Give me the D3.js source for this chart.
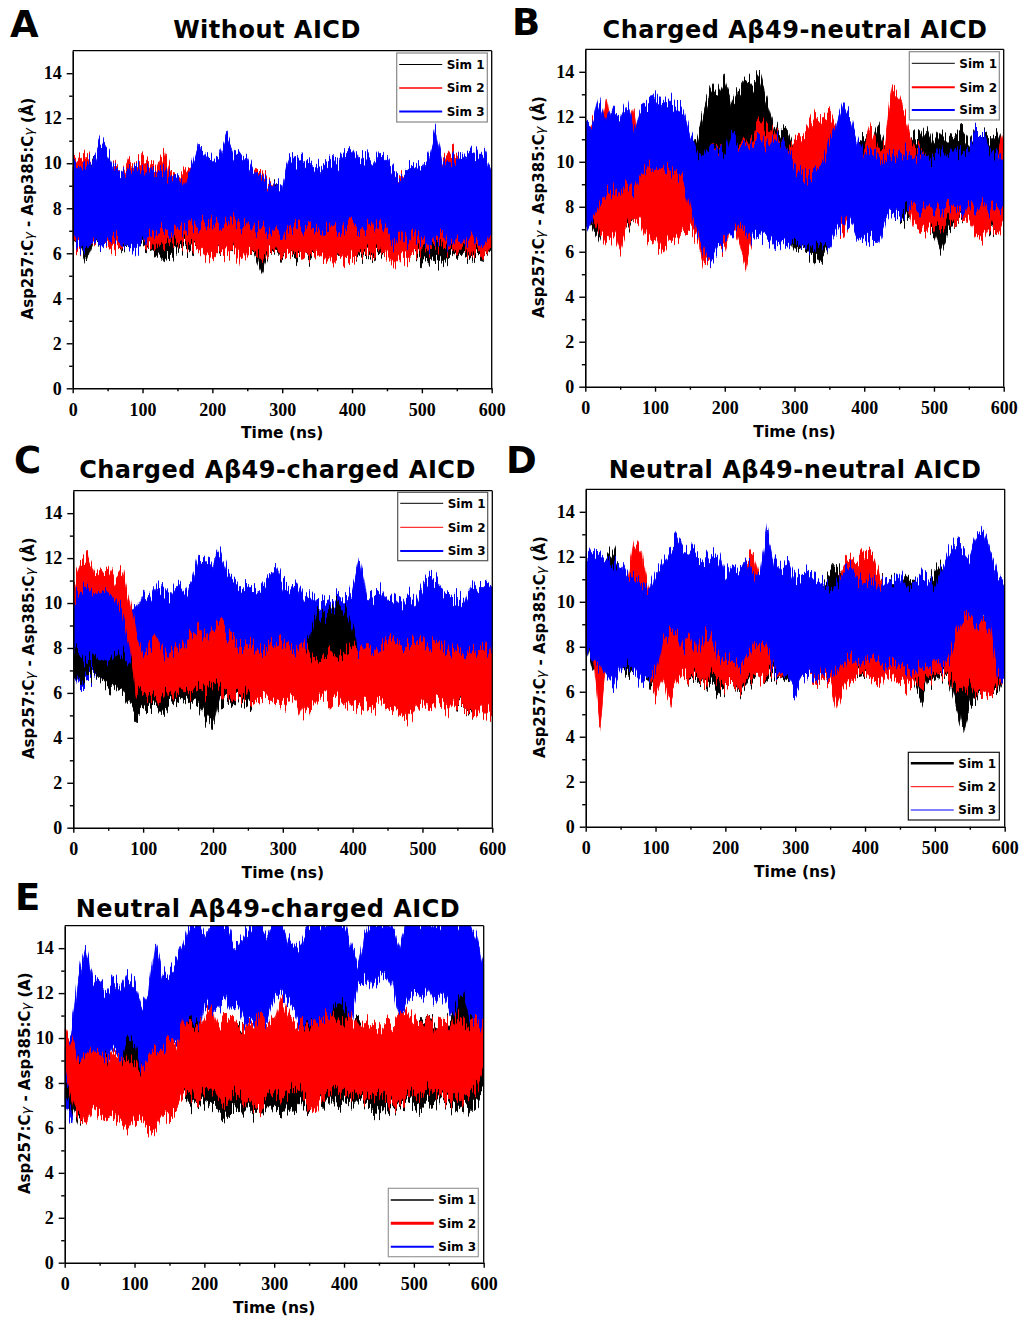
<!DOCTYPE html>
<html>
<head>
<meta charset="utf-8">
<script src="https://d3js.org/d3.v7.min.js"></script>
<style>
  body { margin: 0; background: #fff; }
  .tick text { font-family: "Liberation Serif", "Times New Roman", serif; font-weight: bold; font-size: 18px; fill: #000; }
</style>
</head>
<body>
<svg id="fig" width="1022" height="1320"></svg>
<script>
// sampling times (ns) of the read-off envelopes
const timeNs = [0,10,20,30,40,50,60,70,80,90,100,110,120,130,140,150,160,170,180,190,200,
  210,220,230,240,250,260,270,280,290,300,310,320,330,340,350,360,370,380,390,400,
  410,420,430,440,450,460,470,480,490,500,510,520,530,540,550,560,570,580,590,600];
const xTicks = [0,100,200,300,400,500,600];
const xMinor = [50,150,250,350,450,550];
const yTicks = [0,2,4,6,8,10,12,14];
const yMinor = [1,3,5,7,9,11,13];
const simNames = ["Sim 1","Sim 2","Sim 3"];
const simColors = ["#000000","#ff0000","#0000ff"];
const titles = ["Without AICD","Charged A\u03b249-neutral AICD","Charged A\u03b249-charged AICD",
  "Neutral A\u03b249-neutral AICD","Neutral A\u03b249-charged AICD"];

// ---- panel A : Without AICD (lower / upper envelope of each trace, Å)
const aSim1Lo = [6.3,6.4,5.7,6.5,6.3,6.6,6.4,6.2,6.3,6.4, 6.3,6.2,6.0,5.7,5.8,6.2,6.3,6.1,6.3,6.0, 6.2,6.0,6.2,6.1,6.3,6.1,6.0,5.1,6.0,6.1, 5.8,6.0,5.8,6.0,5.8,6.0,5.9,6.0,5.8,5.9, 6.0,5.8,6.0,5.8,6.0,6.0,5.9,6.1,6.0,6.0, 5.7,5.7,5.6,5.5,5.9,6.0,5.9,5.8,5.9,5.8, 6.2];
const aSim1Hi = [9.8,9.5,9.7,10.3,9.6,9.4,9.6,9.3,9.5,9.4, 9.6,9.5,9.8,9.4,9.6,9.2,9.4,9.8,10.4,10.2, 9.6,9.5,9.4,9.6,9.5,9.4,9.6,9.2,9.0,9.1, 8.8,9.0,9.2,9.0,9.3,9.0,9.2,9.1,9.4,9.2, 9.0,9.2,9.3,9.1,9.2,9.4,9.5,9.2,9.4,9.6, 9.3,9.5,9.4,9.6,9.8,9.6,9.5,9.4,9.6,9.8, 9.0];
const aSim2Lo = [6.5,6.2,6.8,6.4,6.6,6.3,6.2,6.3,6.5,6.3, 6.6,6.2,6.4,6.3,6.6,6.4,6.5,6.3,6.2,5.9, 5.8,6.1,6.0,6.2,5.7,6.0,6.1,5.7,6.0,6.2, 5.9,5.9,6.1,5.8,6.0,5.9,5.8,5.6,5.9,5.7, 5.8,6.0,6.1,5.9,6.2,5.9,5.6,5.9,5.8,6.0, 6.2,6.1,6.4,6.3,6.2,6.1,6.3,5.9,6.2,5.8, 6.4];
const aSim2Hi = [10.1,10.2,10.3,9.9,9.8,9.8,10.0,9.5,10.1,9.9, 10.2,10.0,9.8,10.5,9.6,9.4,9.7,9.8,9.5,9.8, 9.6,9.4,9.6,9.8,9.5,9.3,9.7,9.6,9.2,9.0, 8.8,9.2,9.4,9.2,9.5,9.1,9.3,9.2,9.6,9.4, 9.2,9.3,9.5,9.2,9.4,9.1,9.3,9.6,9.4,9.8, 9.5,9.8,9.6,10.2,10.6,10.4,9.8,9.6,9.9,10.0, 9.6];
const aSim3Lo = [6.8,6.3,6.2,6.6,6.3,6.5,6.8,6.4,6.3,6.1, 6.5,6.8,6.9,7.1,6.8,7.2,7.0,7.2,7.3,7.4, 7.4,7.2,7.3,7.5,7.1,7.3,7.0,7.2,6.9,7.1, 6.7,7.1,7.3,7.0,7.3,7.1,7.0,7.3,6.9,7.2, 7.3,7.0,7.2,7.1,7.4,6.9,6.4,6.8,6.5,6.9, 6.5,6.3,6.6,6.9,6.3,6.7,6.4,6.8,6.5,6.3, 7.0];
const aSim3Hi = [10.0,9.8,9.9,10.2,11.0,10.4,9.8,9.6,9.7,9.9, 9.6,9.8,9.5,9.7,9.3,9.5,9.0,9.8,10.8,10.4, 10.2,10.3,11.2,10.5,10.4,10.2,9.6,9.4,9.1,9.0, 9.0,10.3,10.1,10.2,10.0,9.8,9.9,10.1,10.0,10.5, 10.8,10.2,10.3,10.0,10.5,10.2,9.6,9.4,9.7,10.0, 9.8,10.3,11.4,10.0,10.1,10.2,10.4,10.5,10.4,10.4, 9.6];

// ---- panel B : Charged Aβ49-neutral AICD
const bSim1Lo = [8.0,7.2,6.6,7.5,6.9,7.2,7.0,7.6,7.4,7.2, 6.8,7.0,6.9,6.8,6.9,7.2,7.5,8.6,9.0,9.4, 9.2,9.0,9.3,9.5,9.2,9.0,8.6,8.0,7.4,6.8, 6.0,6.2,6.0,5.6,5.7,6.4,7.0,7.2,7.6,7.2, 7.4,7.0,7.4,7.6,7.8,7.6,7.4,7.8,7.5,7.2, 6.8,6.0,6.8,7.2,7.5,7.6,7.2,7.4,7.0,6.8, 7.6];
const bSim1Hi = [9.5,9.8,9.6,10.0,9.4,9.8,9.6,10.0,9.5,9.8, 10.2,9.6,9.8,10.0,10.3,10.5,11.0,12.2,13.3,13.0, 13.6,12.6,13.2,13.7,13.4,13.9,12.8,11.8,11.2,11.4, 10.6,10.2,9.8,9.6,9.4,9.8,9.6,10.2,10.4,10.8, 11.0,10.8,11.6,10.8,10.6,11.0,10.8,11.3,11.0,11.5, 10.8,11.3,11.0,11.2,11.4,10.9,11.5,11.2,11.0,11.4, 10.6];
const bSim2Lo = [8.0,7.6,7.0,6.4,6.8,6.1,7.2,7.6,7.2,6.5, 6.4,6.0,6.5,6.6,6.8,7.0,6.6,5.5,5.6,6.4, 6.0,7.2,6.5,5.4,6.8,7.0,7.4,7.2,7.8,7.6, 7.5,7.8,8.2,8.4,8.6,7.8,7.2,6.8,7.5,7.8, 8.0,7.6,7.8,8.0,8.6,8.8,8.2,7.2,7.0,6.9, 7.2,7.0,7.4,7.2,7.6,7.3,6.8,6.6,7.2,6.8, 7.4];
const bSim2Hi = [11.0,11.8,11.2,12.6,10.8,11.2,11.5,12.5,10.0,10.2, 9.8,10.4,9.9,10.2,9.8,9.5,10.4,10.0,10.8,10.6, 10.2,9.8,11.0,10.6,11.2,11.8,11.4,11.6,10.8,10.6, 10.8,11.0,11.5,12.2,12.0,12.1,11.4,10.6,10.4,10.2, 10.5,11.5,10.6,10.8,13.3,12.8,12.0,10.8,10.5,10.2, 10.1,9.8,9.9,10.0,9.7,10.2,9.8,9.6,10.0,10.2, 11.3];
const bSim3Lo = [7.0,7.6,8.2,8.6,8.8,8.5,9.0,8.8,9.5,9.8, 9.6,9.8,9.7,9.5,9.2,8.2,6.8,6.0,5.6,6.2, 6.5,6.8,7.2,6.9,6.6,6.8,6.6,6.3,6.4,6.3, 6.5,6.2,6.3,6.1,6.4,6.2,6.8,7.4,7.2,6.6, 6.4,6.6,6.3,7.2,7.8,7.6,7.9,8.0,7.8,8.1, 8.0,7.9,8.0,8.1,7.7,8.0,7.8,8.2,7.9,8.0, 8.1];
const bSim3Hi = [11.8,11.5,12.6,11.6,12.4,12.0,12.7,11.5,12.4,12.6, 13.0,12.6,12.8,12.5,12.3,11.2,10.4,10.2,10.8,10.5, 10.3,11.3,10.8,10.5,10.9,11.0,10.6,11.2,10.8,10.6, 9.8,9.5,9.3,9.6,9.9,10.8,11.5,12.5,12.0,11.0, 10.3,10.4,10.3,10.0,10.3,10.2,10.5,10.2,10.4,10.2, 10.1,10.5,10.2,10.6,10.3,10.6,11.5,11.2,10.5,10.4, 10.0];

// ---- panel C : Charged Aβ49-charged AICD
const cSim1Lo = [7.0,6.6,6.8,6.9,6.5,6.2,6.4,6.0,5.4,5.0, 5.2,5.4,5.6,5.2,5.6,5.5,5.8,5.6,5.4,4.8, 4.4,5.6,5.8,5.6,5.8,5.4,5.8,5.9,6.0,5.8, 5.6,5.8,6.0,5.8,5.9,6.2,6.0,6.4,6.2,6.0, 6.2,6.0,6.1,6.2,6.0,6.2,6.3,6.0,5.8,6.1, 6.0,6.1,6.0,5.8,5.6,5.5,5.4,5.2,5.4,5.2, 5.5];
const cSim1Hi = [8.0,7.6,7.4,7.6,7.5,7.4,7.6,7.8,7.2,8.0, 7.0,6.8,7.2,6.9,7.0,6.8,7.1,7.2,7.0,7.6, 8.2,7.8,7.4,7.2,7.0,7.2,7.4,7.2,7.0,7.4, 7.2,7.0,7.4,7.6,8.6,9.6,9.4,9.8,10.0,9.6, 8.8,7.4,7.0,7.2,7.0,7.4,7.0,7.2,6.8,7.0, 7.2,7.0,7.4,6.8,7.0,6.8,7.0,6.6,6.8,6.6, 6.8];
const cSim2Lo = [10.2,10.6,10.8,10.4,10.6,10.5,10.2,9.8,8.4,6.2, 5.8,6.0,5.8,6.2,5.8,6.0,6.2,6.0,6.2,6.0, 6.4,6.2,6.0,5.8,5.9,6.0,5.6,5.8,5.7,5.6, 5.4,5.8,5.6,5.0,5.3,5.6,5.9,5.6,5.8,5.4, 5.6,5.4,5.6,5.3,5.7,5.5,5.3,5.1,4.9,5.2, 5.4,5.3,5.6,5.4,5.2,5.6,5.4,5.3,5.1,5.2, 5.1];
const cSim2Hi = [10.8,11.6,12.0,11.2,11.4,11.6,11.0,11.4,10.2,8.6, 7.8,8.0,8.4,7.6,7.8,8.0,8.2,8.6,8.8,8.4, 9.0,9.2,8.6,8.4,8.0,8.2,8.0,7.8,8.0,8.3, 8.2,8.0,7.8,8.1,7.6,7.4,7.6,7.8,7.6,7.8, 8.0,7.8,8.2,7.8,8.0,8.2,8.4,7.9,8.2,8.3, 8.4,8.1,8.4,8.0,7.8,8.0,7.6,7.8,7.9,8.1, 7.6];
const cSim3Lo = [7.0,6.4,6.5,6.8,6.6,6.8,6.6,6.4,6.2,6.0, 6.3,6.5,6.4,6.6,6.5,6.7,6.9,7.2,7.6,7.5, 7.8,7.6,7.4,7.2,7.3,7.4,7.2,7.5,7.3,7.6, 7.6,7.3,7.4,7.6,7.2,6.9,6.6,7.2,7.4,7.6, 7.3,7.4,7.2,7.0,7.6,7.4,7.6,7.5,7.4,7.6, 7.5,7.3,7.6,7.5,7.4,7.6,7.3,7.6,7.5,7.4, 7.6];
const cSim3Hi = [10.4,10.8,11.0,10.6,11.2,10.8,10.4,10.0,9.6,9.8, 10.4,10.2,10.8,10.6,10.3,10.9,10.4,11.0,12.2,12.0, 11.6,12.4,11.4,11.0,10.6,10.8,10.5,10.7,11.2,11.6, 10.9,10.6,10.9,10.2,10.4,10.0,10.2,10.0,10.4,10.1, 10.6,12.0,10.4,10.3,10.6,10.1,10.3,10.0,10.4,10.0, 10.7,11.2,11.0,10.5,10.2,10.3,10.0,10.8,10.6,10.9, 10.8];

// ---- panel D : Neutral Aβ49-neutral AICD
const dSim1Lo = [8.2,7.0,6.6,7.0,6.8,7.2,6.8,7.0,6.6,6.4, 6.0,6.8,7.0,6.6,6.9,6.5,6.6,6.2,6.4,6.0, 6.2,6.4,5.9,6.3,6.6,6.8,6.6,6.8,6.6,6.4, 6.6,6.8,6.9,6.7,6.8,6.6,6.5,6.8,6.9,6.7, 6.8,6.9,6.6,7.0,6.8,6.6,6.8,6.4,5.6,6.4, 6.6,6.8,6.6,5.6,4.3,5.4,5.6,6.0,5.8,6.0, 6.8];
const dSim1Hi = [11.4,12.0,11.6,12.0,12.3,11.4,10.6,10.4,10.2,10.0, 9.8,9.4,10.2,9.8,10.0,9.6,9.8,10.0,9.6,9.8, 10.0,10.4,10.6,10.4,10.8,10.6,10.8,11.2,11.0,10.8, 10.6,10.8,10.4,10.6,10.8,11.2,11.6,11.2,11.0,11.4, 11.6,12.0,11.0,10.8,11.0,10.8,11.2,10.9,11.0,10.8, 11.3,11.6,10.6,9.8,9.0,9.4,9.6,9.2,9.8,10.0, 9.8];
const dSim2Lo = [8.0,7.8,4.6,7.4,7.0,7.2,7.6,7.8,7.6,7.0, 5.8,6.6,5.4,6.4,6.8,6.6,6.8,6.2,6.9,6.6, 6.2,6.4,6.0,6.5,6.8,6.6,6.8,7.0,6.6,6.9, 6.2,6.6,6.8,6.4,6.7,6.5,5.4,6.2,6.6,6.8, 6.9,6.6,6.3,6.8,6.5,6.4,6.2,6.4,6.3,6.6, 6.8,6.9,6.7,6.3,6.0,6.4,5.8,5.9,5.7,6.4, 6.6];
const dSim2Hi = [11.2,12.0,11.0,10.6,10.8,10.2,11.0,12.8,12.2,10.6, 9.8,9.6,9.8,10.0,9.6,9.4,9.8,9.6,9.2,9.8, 10.2,10.0,10.8,11.8,12.2,11.0,10.4,9.8,9.6,10.0, 9.4,9.6,9.8,9.2,9.6,10.0,10.6,11.8,12.0,11.8, 12.2,12.0,11.2,10.4,10.6,10.8,10.5,10.2,10.4,10.8, 10.2,9.8,9.6,9.4,9.6,9.4,9.6,9.2,9.0,10.2, 10.0];
const dSim3Lo = [8.0,7.4,7.2,6.6,6.3,7.0,7.2,6.9,6.4,6.6, 6.9,8.2,8.6,8.8,8.0,8.4,7.8,8.6,8.4,7.6, 7.4,7.4,7.1,7.5,8.0,8.2,7.9,7.0,6.8,6.6, 6.0,6.6,6.8,6.6,6.9,6.7,7.0,7.3,7.5,7.2, 7.4,7.6,7.3,7.1,7.4,7.2,7.0,6.8,7.2,7.0, 7.4,7.2,7.5,8.6,9.2,9.4,9.0,9.3,8.8,6.8, 6.4];
const dSim3Hi = [11.8,12.2,12.1,11.9,11.6,11.8,11.2,11.0,10.8,10.5, 11.2,11.8,12.4,12.8,12.2,12.4,12.0,11.8,12.2,12.0, 11.2,11.6,11.4,11.8,11.3,11.2,13.2,11.8,11.4,11.8, 11.0,11.2,11.4,11.0,10.8,10.6,10.8,11.4,11.6,11.0, 10.8,11.0,10.6,11.0,10.8,11.2,10.6,10.8,11.2,11.0, 10.6,11.4,12.2,12.6,12.4,12.0,12.8,13.2,12.2,11.2, 10.8];

// ---- panel E : Neutral Aβ49-charged AICD (Sim 3 runs off the top of the axis)
const eSim1Lo = [7.4,7.0,6.2,6.4,7.2,7.4,7.3,7.6,7.2,7.4, 7.0,6.8,6.8,7.0,7.2,7.4,7.6,7.4,7.0,7.2, 7.0,7.2,6.8,6.6,6.9,6.7,7.0,6.6,6.9,6.6, 7.0,6.7,7.0,6.8,7.1,6.9,7.2,7.0,7.3,7.0, 7.2,7.0,7.3,7.1,6.8,6.7,7.0,6.9,7.1,7.2, 7.0,6.9,7.2,7.0,7.3,7.1,6.8,7.0,6.8,7.1, 7.6];
const eSim1Hi = [8.0,7.6,9.0,8.6,9.0,8.8,9.2,8.8,9.0,10.0, 9.6,8.6,8.8,9.0,9.2,9.0,9.4,10.6,10.8,10.6, 10.8,10.4,10.6,10.4,10.2,10.6,10.4,10.2,10.6,10.4, 10.8,10.6,10.2,10.4,10.8,10.6,10.4,10.8,11.0,11.6, 11.4,10.6,10.8,10.4,10.6,10.2,10.6,10.4,10.8,10.6, 10.4,10.8,11.0,10.6,10.4,10.8,11.4,12.0,10.8,10.4, 9.8];
const eSim2Lo = [8.6,7.4,6.4,6.2,6.8,6.6,6.4,6.6,6.2,5.9, 6.4,6.2,6.0,5.8,6.4,6.6,6.8,7.4,7.6,7.2, 7.6,7.8,7.4,7.2,7.6,7.4,7.2,7.0,6.8,7.4, 7.6,7.4,7.6,7.8,7.6,7.0,6.8,7.4,7.6,7.8, 7.6,7.4,7.6,7.2,7.4,7.6,7.4,7.0,7.2,7.4, 7.6,7.4,7.8,7.6,7.4,7.2,7.4,7.2,7.6,7.8, 8.6];
const eSim2Hi = [10.6,9.8,8.8,9.2,9.6,9.4,9.0,9.4,9.2,9.0, 8.8,8.6,9.0,9.4,9.6,9.8,9.6,10.8,10.6,10.4, 11.0,11.4,10.6,11.0,10.8,10.4,10.6,10.8,11.0,10.6, 10.8,11.8,11.0,10.6,10.8,10.4,10.6,10.8,11.2,10.8, 10.6,11.0,10.4,10.8,10.6,10.4,10.8,10.6,11.0,11.2, 10.8,10.6,11.0,10.4,10.8,10.6,11.0,10.8,10.4,10.8, 10.4];
const eSim3Lo = [7.0,6.4,8.6,8.8,9.2,9.4,9.0,9.6,9.2,9.4, 9.0,7.4,8.0,9.2,9.4,9.6,9.8,10.4,10.6,10.0, 11.6,11.2,11.4,11.8,11.2,11.4,10.6,11.0,10.4,10.8, 11.8,12.0,11.6,11.2,10.4,10.2,10.6,10.4,10.8,10.6, 10.2,10.8,12.4,12.6,12.2,12.6,12.8,12.2,10.8,11.6, 12.0,11.8,12.2,11.6,12.0,11.4,10.8,10.4,10.6,10.0, 9.8];
const eSim3Hi = [9.8,10.4,12.8,14.0,12.6,12.4,12.0,12.6,12.2,12.8, 12.4,11.4,12.0,14.1,12.8,13.0,13.4,14.2,15.2,15.2, 14.6,15.2,15.2,15.2,14.4,14.2,14.8,15.2,15.2,14.6, 15.2,15.2,14.4,14.0,14.4,15.2,15.2,15.2,15.2,15.2, 15.2,14.2,13.4,14.6,15.2,15.2,15.2,14.8,13.9,15.2, 15.2,15.2,15.2,15.2,15.2,15.2,15.2,15.2,15.2,14.5, 13.2];

// ---- layout of the five panels
const panels = [
  { id: "A", title: titles[0], box: [72.7, 50.7, 491.7, 388.3], order: [0, 1, 2],
    lo: [aSim1Lo, aSim2Lo, aSim3Lo], hi: [aSim1Hi, aSim2Hi, aSim3Hi],
    letter: [10, 37], titleX: 267, titleY: 38, yLabX: 28, unit: "\u00c5",
    legend: { x: 396.7, y: 53, w: 90.6, h: 69, rows: [64.5, 88, 111.5], lw: [1, 1.5, 2], stroke: "#888" } },
  { id: "B", title: titles[1], box: [585.3, 49.3, 1003.7, 386.7], order: [0, 1, 2],
    lo: [bSim1Lo, bSim2Lo, bSim3Lo], hi: [bSim1Hi, bSim2Hi, bSim3Hi],
    letter: [512, 35], titleX: 795, titleY: 37.5, yLabX: 539, unit: "\u00c5",
    legend: { x: 909.3, y: 51.7, w: 90, h: 68.3, rows: [63.3, 87.3, 110], lw: [1, 2, 2], stroke: "#888" } },
  { id: "C", title: titles[2], box: [73.3, 490.7, 492.3, 827.7], order: [2, 0, 1],
    lo: [cSim1Lo, cSim2Lo, cSim3Lo], hi: [cSim1Hi, cSim2Hi, cSim3Hi],
    letter: [14, 473], titleX: 277.5, titleY: 478.3, yLabX: 28.3, unit: "\u00c5",
    legend: { x: 397.7, y: 492.3, w: 90, h: 68.4, rows: [503.3, 527.3, 551], lw: [1, 1, 2], stroke: "#555" } },
  { id: "D", title: titles[3], box: [585.7, 489.3, 1004.7, 826.7], order: [0, 1, 2],
    lo: [dSim1Lo, dSim2Lo, dSim3Lo], hi: [dSim1Hi, dSim2Hi, dSim3Hi],
    letter: [506, 473], titleX: 795, titleY: 477.7, yLabX: 539.3, unit: "\u00c5",
    legend: { x: 908.3, y: 752.3, w: 91, h: 67.7, rows: [763.3, 786.7, 810], lw: [2.5, 1, 1.2], stroke: "#111" } },
  { id: "E", title: titles[4], box: [64.7, 925.7, 483.7, 1262.7], order: [2, 0, 1],
    lo: [eSim1Lo, eSim2Lo, eSim3Lo], hi: [eSim1Hi, eSim2Hi, eSim3Hi],
    letter: [15, 910], titleX: 268, titleY: 916.7, yLabX: 25, unit: "A",
    legend: { x: 388.3, y: 1188.3, w: 90, h: 68.4, rows: [1200, 1223.3, 1246.7], lw: [1.5, 3, 2], stroke: "#999" } }
];

const svg = d3.select("#fig");
const sans = "'DejaVu Sans', Verdana, sans-serif";

// rendering texture: vertical striations on the band edges, like a densely sampled trace
const defs = svg.append("defs");
const jag = defs.append("filter").attr("id", "jag")
  .attr("x", "-2%").attr("y", "-30%").attr("width", "104%").attr("height", "160%")
  .attr("color-interpolation-filters", "sRGB");
jag.append("feTurbulence").attr("type", "fractalNoise")
  .attr("baseFrequency", "0.55 0.012").attr("numOctaves", 2).attr("seed", 7).attr("result", "noise");
jag.append("feColorMatrix").attr("in", "noise").attr("type", "matrix")
  .attr("values", "0 0 0 0 0.5  0 2.2 0 0 -0.6  0 0 0 0 0  0 0 0 0 1").attr("result", "map");
jag.append("feDisplacementMap").attr("in", "SourceGraphic").attr("in2", "map")
  .attr("scale", 17).attr("xChannelSelector", "R").attr("yChannelSelector", "G");

panels.forEach(p => {
  const [x0, y0, x1, y1] = p.box;
  const x = d3.scaleLinear().domain([0, 600]).range([x0, x1]);
  const y = d3.scaleLinear().domain([0, 15]).range([y1, y0]);
  const g = svg.append("g").attr("id", "panel" + p.id);

  g.append("clipPath").attr("id", "clip" + p.id)
    .append("rect").attr("x", x0).attr("y", y0).attr("width", x1 - x0).attr("height", y1 - y0);

  // traces as filled min/max envelopes
  const plot = g.append("g").attr("clip-path", `url(#clip${p.id})`);
  p.order.forEach(k => {
    const band = d3.area()
      .x((d, j) => x(timeNs[j]))
      .y0((d, j) => y(p.lo[k][j]))
      .y1((d, j) => y(p.hi[k][j]));
    plot.append("path")
      .datum(timeNs)
      .attr("d", band)
      .attr("fill", simColors[k])
      .attr("stroke", simColors[k])
      .attr("stroke-width", 0.8)
      .attr("filter", "url(#jag)");
  });

  // axes
  g.append("g").attr("transform", `translate(0,${y1})`)
    .call(d3.axisBottom(x).tickValues(xTicks).tickSizeInner(5).tickSizeOuter(0).tickPadding(10));
  g.append("g").attr("transform", `translate(0,${y1})`)
    .call(d3.axisBottom(x).tickValues(xMinor).tickSizeInner(3).tickSizeOuter(0).tickFormat(""))
    .select(".domain").remove();
  g.append("g").attr("transform", `translate(${x0},0)`)
    .call(d3.axisLeft(y).tickValues(yTicks).tickSizeInner(6).tickSizeOuter(0).tickPadding(5));
  g.append("g").attr("transform", `translate(${x0},0)`)
    .call(d3.axisLeft(y).tickValues(yMinor).tickSizeInner(3.5).tickSizeOuter(0).tickFormat(""))
    .select(".domain").remove();
  g.selectAll(".domain").attr("stroke-width", 1.6);
  g.selectAll(".tick line").attr("stroke-width", 1.4);

  // top / right frame
  g.append("line").attr("x1", x0).attr("x2", x1).attr("y1", y0).attr("y2", y0)
    .attr("stroke", "#000").attr("stroke-width", 1.3);
  g.append("line").attr("x1", x1).attr("x2", x1).attr("y1", y0).attr("y2", y1)
    .attr("stroke", "#000").attr("stroke-width", 1.3);

  // axis titles
  g.append("text")
    .attr("x", (x0 + x1) / 2).attr("y", y1 + 50)
    .attr("text-anchor", "middle")
    .style("font-family", sans).style("font-weight", "bold").style("font-size", "15.5px")
    .text("Time (ns)");

  const yl = g.append("text")
    .attr("transform", `translate(${p.yLabX},${(y0 + y1) / 2 - 11}) rotate(-90)`)
    .attr("text-anchor", "middle").attr("dy", "0.35em")
    .style("font-family", sans).style("font-weight", "bold").style("font-size", "15px");
  yl.append("tspan").text("Asp257:C");
  yl.append("tspan").text("\u03b3").style("font-style", "italic").style("font-weight", "normal").style("font-size", "13px");
  yl.append("tspan").text(" - Asp385:C");
  yl.append("tspan").text("\u03b3").style("font-style", "italic").style("font-weight", "normal").style("font-size", "13px");
  yl.append("tspan").text(" (" + p.unit + ")");

  // title and panel letter
  g.append("text")
    .attr("x", p.titleX).attr("y", p.titleY).attr("text-anchor", "middle")
    .style("font-family", sans).style("font-weight", "bold").style("font-size", "24px")
    .style("letter-spacing", "0.5px")
    .text(p.title);
  g.append("text")
    .attr("x", p.letter[0]).attr("y", p.letter[1])
    .style("font-family", sans).style("font-weight", "bold").style("font-size", "37px")
    .text(p.id);

  // legend
  const L = p.legend;
  const lg = g.append("g");
  lg.append("rect").attr("x", L.x).attr("y", L.y).attr("width", L.w).attr("height", L.h)
    .attr("fill", "#fff").attr("stroke", L.stroke).attr("stroke-width", 1.2);
  simNames.forEach((name, k) => {
    lg.append("line")
      .attr("x1", L.x + 2.5).attr("x2", L.x + 45.5)
      .attr("y1", L.rows[k]).attr("y2", L.rows[k])
      .attr("stroke", simColors[k]).attr("stroke-width", L.lw[k]);
    lg.append("text")
      .attr("x", L.x + 50).attr("y", L.rows[k]).attr("dy", "0.36em")
      .style("font-family", sans).style("font-weight", "bold").style("font-size", "12px")
      .text(name);
  });
});
</script>
</body>
</html>
